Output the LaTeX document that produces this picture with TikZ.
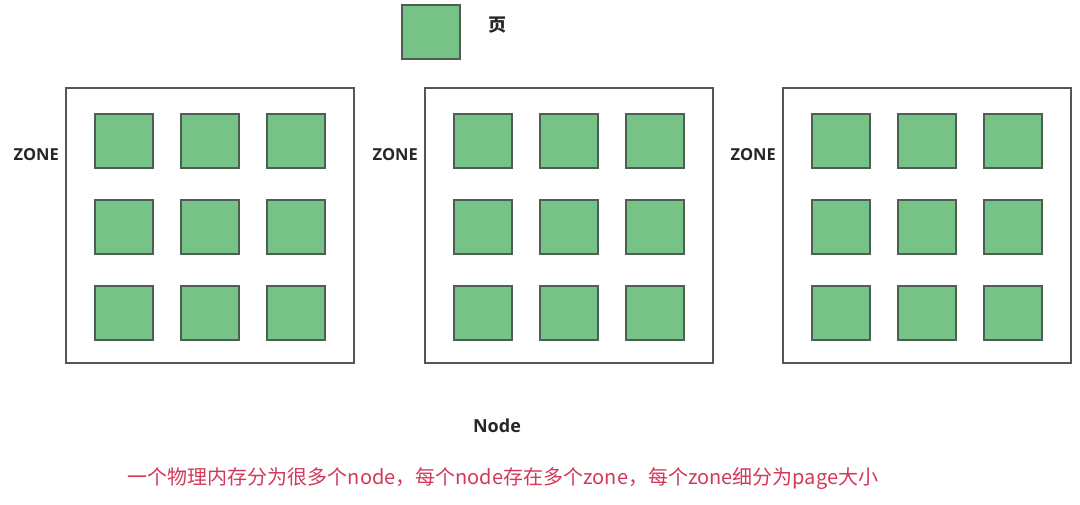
\documentclass[tikz,border=0pt]{standalone}
\usepackage{fontspec}
\setmainfont{Open Sans}
\newfontfamily\cjk{Noto Sans CJK SC}
\definecolor{pgfill}{HTML}{77C387}
\definecolor{pgline}{HTML}{4D5E52}
\definecolor{boxline}{HTML}{555555}
\definecolor{txtdark}{HTML}{262626}
\definecolor{noteRed}{HTML}{D2385A}
\tikzset{
  page/.style={draw=pgline, fill=pgfill, line width=2pt, minimum width=58pt, minimum height=54pt, inner sep=0pt},
  zonebox/.style={draw=boxline, line width=2pt, minimum width=288pt, minimum height=275pt, inner sep=0pt},
  zlabel/.style={font=\fontsize{16.5}{16.5}\selectfont\bfseries, text=txtdark, inner sep=0pt},
}
\begin{document}
\begin{tikzpicture}[x=1pt,y=-1pt]
\useasboundingbox (0,0) rectangle (1080,504);
% legend
\node[page] (legend) at (431,32) {};
\node[font=\cjk\fontsize{18}{18}\selectfont\bfseries, text=txtdark] (legendtxt) at (497,25) {页};
% zones
\foreach \i/\bx in {1/65,2/424,3/782}{
  \node[zonebox, anchor=north west] (zone\i) at (\bx,87) {};
  \node[zlabel, anchor=east] (zlab\i) at ({\bx-6},155) {ZONE};
  \foreach \c in {0,1,2}{
    \foreach \r in {0,1,2}{
      \node[page] (p\i\c\r) at ({\bx+59+86*\c},{140.5+86*\r}) {};
    }
  }
}
\node[font=\fontsize{18}{18}\selectfont\bfseries, text=txtdark] (nodelbl) at (497,426) {Node};
\node[font=\cjk\fontsize{20}{20}\selectfont, text=noteRed] (note) at (503,479) {一个物理内存分为很多个node，每个node存在多个zone，每个zone细分为page大小};
\end{tikzpicture}
\end{document}
